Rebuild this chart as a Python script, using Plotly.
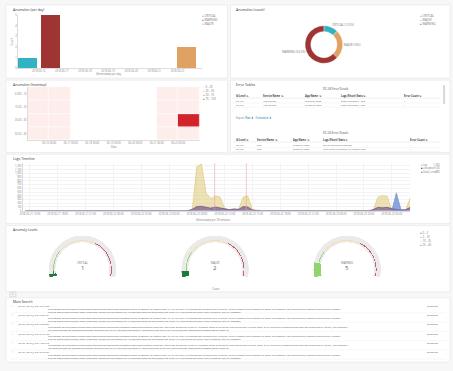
import textwrap
import plotly.graph_objects as go
import pandas as pd

W, H = 453, 371
FONT = "Open Sans"


def dom_x(a, b):
    return [a / W, b / W]


def dom_y(top, bottom):
    return [1 - bottom / H, 1 - top / H]


def fx(x):
    return x / W


def fy(y):
    return 1 - y / H


# ---------------- data ----------------
severity_names = ["CRITICAL", "WARNING", "MAJOR"]
severity_counts = [1, 5, 2]
severity_colors = ["#31b3c4", "#9e3533", "#e0a262"]
severity_slots = [0.5, 1.5, 7.4]
day_labels = ["2018-06-16", "2018-06-17", "2018-06-18", "2018-06-19",
              "2018-06-20", "2018-06-21", "2018-06-22"]

donut_names = ["CRITICAL", "MAJOR", "WARNING"]
donut_counts = [1, 2, 5]
donut_colors = ["#31b3c4", "#e0a262", "#9e3533"]

heat_rows = ["0.000 - 10", "10.00 - 20", "20.00 - 30", "30.00 - 40"]
heat_cols = [0, 1, 2, 3, 4, 5, 6, 7]
heat_tick_labels = ["06-16 00:00", "06-17 00:00", "06-18 00:00", "06-19 00:00",
                    "06-20 00:00", "06-21 00:00", "06-22 00:00"]
heat_z = [
    [4, 6, None, None, None, None, 5, 3],
    [5, 4, None, None, None, None, 6, 4],
    [3, 5, None, None, None, None, 4, 92],
    [6, 4, None, None, None, None, 5, 6],
]
heat_legend = ["0 - 25", "25 - 50", "50 - 75", "75 - 100"]
heat_colors = ["#fdeeec", "#f5b2a6", "#e5625a", "#d2232b"]

log_counts = [0, 0, 0, 0, 0, 0, 0, 0, 0, 0, 0, 0, 0, 0, 0, 0, 0, 0, 0, 0,
              0, 0, 0, 0, 0, 0, 0, 0, 0, 0, 0, 0, 0, 0, 0, 0,
              30, 1180, 1250, 470, 330, 390, 370, 60, 20, 10,
              40, 370, 390, 30,
              0, 0, 0, 0, 0, 0, 0, 0, 0, 0, 0, 0, 0, 0, 0, 0, 0, 0, 0, 0,
              0, 0, 0, 0, 0,
              10, 360, 400, 390, 20, 10, 0, 10, 350]
exc_counts = [0, 0, 0, 0, 0, 0, 0, 0, 0, 0, 0, 0, 0, 0, 0, 0, 0, 0, 0, 0,
              0, 0, 0, 0, 0, 0, 0, 0, 0, 0, 0, 0, 0, 0, 0, 0,
              40, 110, 120, 90, 70, 100, 80, 60, 30, 50,
              40, 110, 100, 20,
              0, 0, 0, 0, 0, 0, 0, 0, 0, 0, 0, 0, 0, 0, 0, 0, 0, 0, 0, 0,
              0, 0, 0, 0, 0,
              30, 90, 80, 90, 60, 40, 20, 30, 90]
fatal_counts = [0, 0, 0, 0, 0, 0, 0, 0, 0, 0, 0, 0, 0, 0, 0, 0, 0, 0, 0, 0,
                0, 0, 0, 0, 0, 0, 0, 0, 0, 0, 0, 0, 0, 0, 0, 0,
                0, 0, 20, 0, 0, 30, 0, 0, 0, 0,
                0, 0, 0, 0,
                0, 0, 0, 0, 0, 0, 0, 0, 0, 0, 0, 0, 0, 0, 0, 0, 0, 0, 0, 0,
                0, 0, 0, 0, 0,
                0, 0, 0, 0, 0, 480, 30, 0, 0]
ts_names = ["log", "exception", "Fatal_error"]
ts_line_colors = ["#d6bf57", "#54307e", "#5d7fcf"]
ts_fill_colors = ["rgba(222,202,120,0.55)", "rgba(84,48,126,0.55)", "rgba(93,127,207,0.7)"]
alert_times = ["2018-06-22 10:55", "2018-06-22 14:20"]
ts_time = pd.date_range("2018-06-21 14:30", periods=len(log_counts), freq="30min")

gauge_names = ["CRITICAL", "MAJOR", "WARNING"]
gauge_values = [1, 2, 5]
gauge_max = 40
gauge_bounds = [0, 2, 10, 25, 40]
gauge_colors = ["#1d7a3c", "#8fd46d", "#efe3a6", "#c0506e"]
gauge_legend = ["0 - 2", "2 - 10", "10 - 25", "25 - 40"]

t1_header = ["Id Level", "Service Name", "App Name", "Logs (Short) Stats", "Error Count"]
t1_rows = [["DC-UK", "Application", "Explorer Conn", "Time exceeded - 500", "1"],
           ["DC-UK", "Application", "Explorer Conn", "Time exceeded - 500", "1"]]
t2_header = ["Id Level", "Service Name", "App Name", "Logs (Short) Stats", "Error Count"]
t2_rows = [["DC-US", "app", "Explorer Conn", "Out of bounds exception", "1"],
           ["DC-US", "app", "Explorer Conn", "Msg failed to connect to remote host", "1"]]

msg_a = ("level:ERROR serviceName:explorerconn appName:ExplorerConn message:Failed to connect to remote host "
         "10.104.22.18:8443 (Connection refused) after 3 retries. Circuit breaker state changed to OPEN for "
         "endpoint /api/v2/accounts; requests rejected until timeout expires logger:com.explorer.conn.ClientPool "
         "thread:http-nio-8080-exec-12 host:app-node-03 env:production dc:DC-UK type:exception "
         "stack trace truncated, see full_message")
msg_b = ("level:ERROR serviceName:explorerconn appName:ExplorerConn message:Unhandled promise rejection. This error "
         "originated either by throwing inside of an async function without a catch block, or by rejecting a "
         "promise which was not handled with .catch(). To terminate the node process on unhandled promise "
         "rejection use the CLI flag host:app-node-01 env:production dc:DC-US type:exception "
         "reason:ECONNRESET socket hang up")
log_times = ["Jun 22, 2018 @ 20:47:51.533", "Jun 22, 2018 @ 20:46:58.401",
             "Jun 22, 2018 @ 20:46:02.887", "Jun 22, 2018 @ 20:45:13.102",
             "Jun 22, 2018 @ 20:44:26.318", "Jun 22, 2018 @ 20:43:40.966"]
log_messages = [msg_a, msg_a, msg_b, msg_a, msg_b, msg_a]
log_types = ["Exception", "Exception", "Exception", "Exception", "Exception", "Exception"]

panel_titles = ["Anomalies (per day)", "Anomalies (count)", "Anomalies (heatmap)",
                "Error Tables", "Logs Timeline", "Anomaly Levels", "Main Search"]

# ---------------- figure ----------------
fig = go.Figure()
shapes = []
annotations = []

panels = [(3, 3, 226, 77), (229, 3, 450, 77), (3, 79, 226, 152), (229, 79, 450, 152),
          (3, 154, 450, 224), (3, 226, 450, 293), (3, 299, 450, 364)]
title_pos = [(8, 8), (233, 8), (8, 83), (233, 83), (8, 158), (8, 230), (8, 303)]
for (x0, y0, x1, y1) in panels:
    shapes.append(dict(type="rect", xref="paper", yref="paper", x0=fx(x0), x1=fx(x1),
                       y0=fy(y1), y1=fy(y0), fillcolor="white",
                       line=dict(color="#e2e4e8", width=0.6), layer="below"))
for t, (x, y) in zip(panel_titles, title_pos):
    annotations.append(dict(x=fx(x), y=fy(y), xref="paper", yref="paper", text=t,
                            showarrow=False, xanchor="left", yanchor="middle",
                            font=dict(size=3.4, color="#333")))


def add_text(x, y, text, size=2.8, color="#777", xanchor="left", angle=0, yanchor="middle"):
    annotations.append(dict(x=fx(x), y=fy(y), xref="paper", yref="paper", text=text,
                            showarrow=False, xanchor=xanchor, yanchor=yanchor, align="left",
                            textangle=angle, font=dict(size=size, color=color)))


def add_hline(x0, x1, y, color="#ececec", width=0.4):
    shapes.append(dict(type="line", xref="paper", yref="paper", x0=fx(x0), x1=fx(x1),
                       y0=fy(y), y1=fy(y), line=dict(color=color, width=width)))


def add_legend(x, y0, step, names, colors, size=2.8):
    for k, (n, c) in enumerate(zip(names, colors)):
        add_text(x, y0 + k * step, f"<span style='color:{c}'>●</span> {n}", size=size)


tick_common = dict(showgrid=False, zeroline=False, tickfont=dict(size=2.6, color="#888"),
                   ticks="", showline=True, linecolor="#ddd", linewidth=0.5, fixedrange=True)

# --- bar chart ---
for n, v, c, s in zip(severity_names, severity_counts, severity_colors, severity_slots):
    fig.add_trace(go.Bar(x=[s], y=[v], width=0.82, marker=dict(color=c, line=dict(width=0)),
                         name=n, xaxis="x", yaxis="y", showlegend=False))
add_legend(198, 14, 4, severity_names, severity_colors)
add_text(107, 73, "@timestamp per day", size=2.6, xanchor="center")
add_text(9, 40, "Count", size=2.6, xanchor="center", angle=-90)

# --- donut ---
fig.add_trace(go.Pie(labels=donut_names, values=donut_counts, hole=0.7, sort=False,
                     direction="clockwise", rotation=0,
                     marker=dict(colors=donut_colors, line=dict(color="white", width=0.3)),
                     texttemplate="%{label} (%{percent})", textposition="outside",
                     textfont=dict(size=2.8, color="#777"),
                     domain=dict(x=dom_x(304, 342), y=dom_y(24, 62)), showlegend=False))
add_legend(418, 14, 4, donut_names, donut_colors)

# --- heatmap ---
cs = []
for k, c in enumerate(heat_colors):
    cs.append([k / 4, c])
    cs.append([(k + 1) / 4, c])
fig.add_trace(go.Heatmap(x=heat_cols, y=heat_rows, z=heat_z, zmin=0, zmax=100,
                         colorscale=cs, showscale=False, xgap=0.6, ygap=0.6,
                         xaxis="x2", yaxis="y2"))
add_legend(199, 86, 3.9, heat_legend, heat_colors)
add_text(112, 146.5, "Date", size=2.6, xanchor="center")

# --- error tables (text tables) ---
add_text(335, 87.5, "DC-UK Error Details", size=2.8, color="#444", xanchor="center")
add_text(335, 132, "DC-US Error Details", size=2.8, color="#444", xanchor="center")
annotations.append(dict(x=fx(233), y=fy(113), xref="paper", yref="paper", showarrow=False,
                        xanchor="left", font=dict(size=2.6, color="#777"),
                        text="Export: <span style='color:#0079a5'>Raw ⬇</span>  "
                             "<span style='color:#0079a5'>Formatted ⬇</span>"))
shapes.append(dict(type="rect", xref="paper", yref="paper", x0=fx(443), x1=fx(445),
                   y0=fy(103), y1=fy(84), fillcolor="#d8d8d8", line=dict(width=0)))
for hdr, rows, col_x, y_hdr, y_rows in [
        (t1_header, t1_rows, [233, 260, 302, 338, 402], 95, [100, 104.3]),
        (t2_header, t2_rows, [233, 254, 290, 320, 408], 139.3, [145, 149])]:
    for cx, h in zip(col_x, hdr):
        add_text(cx, y_hdr, f"<b>{h}</b> ⇅", size=2.5, color="#444")
    add_hline(231, 440, y_hdr + 2.2, color="#d9d9d9")
    for ry, row in zip(y_rows, rows):
        for cx, v in zip(col_x, row):
            add_text(cx, ry, v, size=2.5, color="#666")
        add_hline(231, 440, ry + 2.1)

# --- time series ---
for vals, n, lc, fc in zip([log_counts, exc_counts, fatal_counts], ts_names,
                           ts_line_colors, ts_fill_colors):
    fig.add_trace(go.Scatter(x=ts_time, y=vals, mode="lines", name=n, fill="tozeroy",
                             fillcolor=fc, line=dict(color=lc, width=0.5),
                             xaxis="x3", yaxis="y3", showlegend=False))
for t in alert_times:
    shapes.append(dict(type="line", xref="x3", yref="y3 domain", x0=t, x1=t, y0=0, y1=1,
                       line=dict(color="#f2a0a0", width=0.6)))
for k, (n, c, vals) in enumerate(zip(ts_names, ts_line_colors,
                                     [log_counts, exc_counts, fatal_counts])):
    add_text(419, 164.5 + k * 3.8, f"<span style='color:{c}'>■</span> {n}", size=2.6)
    add_text(442, 164.5 + k * 3.8, f"{max(vals):,}", size=2.6, xanchor="right")
add_text(212, 220.5, "@timestamp per 30 minutes", size=2.6, xanchor="center")

# --- gauges ---
gauge_centers = [80, 213.5, 346.5]
k_deg = 208 / gauge_max
for gi, (name, val, cx) in enumerate(zip(gauge_names, gauge_values, gauge_centers)):
    pid = "polar" if gi == 0 else f"polar{gi + 1}"
    fig.add_trace(go.Barpolar(theta=[gauge_max * k_deg / 2], width=[gauge_max * k_deg],
                              base=[0.8], r=[0.2], marker=dict(color="#ebe9ea", line=dict(width=0)),
                              subplot=pid, showlegend=False))
    th, wd, cl = [], [], []
    for a, b, c in zip(gauge_bounds[:-1], gauge_bounds[1:], gauge_colors):
        th.append((a + b) / 2 * k_deg)
        wd.append((b - a) * k_deg)
        cl.append(c)
    fig.add_trace(go.Barpolar(theta=th, width=wd, base=[0.845] * len(th), r=[0.025] * len(th),
                              marker=dict(color=cl, line=dict(width=0)), opacity=0.9,
                              subplot=pid, showlegend=False))
    vcol = gauge_colors[0]
    for a, b, c in zip(gauge_bounds[:-1], gauge_bounds[1:], gauge_colors):
        if a <= val <= b:
            vcol = c
            break
    fig.add_trace(go.Barpolar(theta=[val * k_deg / 2], width=[val * k_deg], base=[0.78],
                              r=[0.22], marker=dict(color=vcol, line=dict(width=0)),
                              subplot=pid, showlegend=False))
    add_text(cx, 263.5, name, size=2.6, color="#777", xanchor="center")
    add_text(cx, 268.8, str(val), size=6, color="#666", xanchor="center")
add_legend(418, 234, 3.9, gauge_legend, gauge_colors)
add_text(213.5, 290.5, "Count", size=2.6, xanchor="center")

polar_common = dict(bgcolor="rgba(0,0,0,0)", sector=[-14, 194], hole=0,
                    radialaxis=dict(visible=False, range=[0, 1]),
                    angularaxis=dict(visible=False, rotation=194, direction="clockwise"))

# --- log table (saved search) ---
shapes.append(dict(type="rect", xref="paper", yref="paper", x0=fx(7), x1=fx(13),
                   y0=fy(298), y1=fy(293), fillcolor="#f5f5f5", line=dict(color="#bbb", width=0.4)))
add_text(10, 295.5, "≡", size=3, color="#666", xanchor="center")
row_top = 305.5
row_h = 9.35
for i, (t, m, ty) in enumerate(zip(log_times, log_messages, log_types)):
    y0 = row_top + i * row_h
    lines = textwrap.wrap(m, 262)
    add_text(9.5, y0 + 1.8, "›", size=3, color="#888", xanchor="center")
    add_text(12, y0 + 1.8, t, size=2.4, color="#555")
    add_text(43, y0 + 0.3, "<br>".join(lines[:2]), size=2.4, color="#555", yanchor="top")
    add_text(425, y0 + 1.8, ty, size=2.4, color="#555")
    add_hline(7, 446, y0 + row_h - 0.6)

# ---------------- layout ----------------
fig.update_layout(
    width=W, height=H, autosize=False, margin=dict(l=0, r=0, t=0, b=0),
    paper_bgcolor="#f7f7f8", plot_bgcolor="white", hovermode=False,
    font=dict(family=FONT, size=3, color="#666"), showlegend=False,
    bargap=0,
    xaxis=dict(domain=dom_x(15, 200), range=[0.1, 8.05], tickvals=[1, 2, 3, 4, 5, 6, 7],
               ticktext=day_labels, anchor="y", **tick_common),
    yaxis=dict(domain=dom_y(13, 67), range=[0, 5.03], dtick=1, anchor="x", **tick_common),
    xaxis2=dict(domain=dom_x(25, 198), range=[-0.5, 7.5], tickvals=[0.5, 1.5, 2.5, 3.5, 4.5, 5.5, 6.5],
                ticktext=heat_tick_labels, anchor="y2", **tick_common),
    yaxis2=dict(domain=dom_y(86, 140), autorange="reversed", anchor="x2", type="category",
                **tick_common),
    xaxis3=dict(domain=dom_x(20, 410), type="date",
                range=["2018-06-21 14:15", "2018-06-23 08:00"],
                tick0="2018-06-21 15:00", dtick=3 * 3600 * 1000, tickformat="%Y-%m-%d %H:%M",
                anchor="y3", **{**tick_common, "showgrid": True, "gridcolor": "#f3f3f3",
                                "gridwidth": 0.5}),
    yaxis3=dict(domain=dom_y(163, 211), range=[0, 1270], dtick=100, tickformat=",",
                anchor="x3", **{**tick_common, "showgrid": True, "gridcolor": "#f3f3f3",
                                "gridwidth": 0.5}),
    polar=dict(domain=dict(x=dom_x(gauge_centers[0] - 34, gauge_centers[0] + 34), y=dom_y(236, 278.5)),
               **polar_common),
    polar2=dict(domain=dict(x=dom_x(gauge_centers[1] - 34, gauge_centers[1] + 34), y=dom_y(236, 278.5)),
                **polar_common),
    polar3=dict(domain=dict(x=dom_x(gauge_centers[2] - 34, gauge_centers[2] + 34), y=dom_y(236, 278.5)),
                **polar_common),
    shapes=shapes, annotations=annotations,
)

fig.write_html("out.html", config={"displayModeBar": False},
               post_script="document.body.style.margin='0px';document.body.style.overflow='hidden';")
